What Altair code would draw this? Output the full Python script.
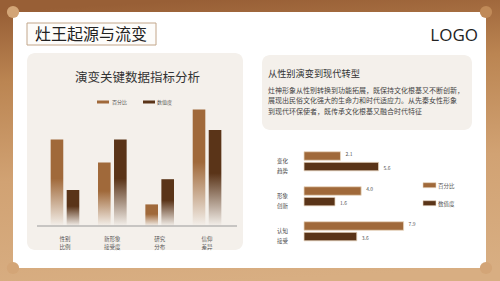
import altair as alt
import pandas as pd

# ---------------- data ----------------
series_list = ["百分比", "数值度"]

left_categories = ["性别\n比例", "新形象\n接受度", "研究\n分布", "信仰\n差异"]
left_pct = [72, 53, 18, 97]
left_val = [30, 72, 39, 80]

right_categories = ["变化\n趋势", "形象\n创新", "认知\n接受"]
right_pct = [2.1, 4.0, 7.9]
right_val = [5.6, 1.6, 3.6]

page_title = "灶王起源与流变"
logo_text = "LOGO"
left_title = "演变关键数据指标分析"
right_title = "从性别演变到现代转型"
body_lines = [
    "灶神形象从性别转换到功能拓展，既保持文化根基又不断创新，",
    "展现出民俗文化强大的生命力和时代适应力。从先秦女性形象",
    "到现代环保使者，既传承文化根基又融合时代特征",
]

# ---------------- styles ----------------
FONT = "Noto Sans CJK SC"
C1 = "#a0693a"
C2 = "#5a3418"
PANEL = "#f4f0eb"
BG_TAN = "#d3a577"

left_df = pd.DataFrame(
    [{"cat": c, "series": series_list[0], "value": v} for c, v in zip(left_categories, left_pct)]
    + [{"cat": c, "series": series_list[1], "value": v} for c, v in zip(left_categories, left_val)]
)
right_df = pd.DataFrame(
    [{"cat": c, "series": series_list[0], "value": v} for c, v in zip(right_categories, right_pct)]
    + [{"cat": c, "series": series_list[1], "value": v} for c, v in zip(right_categories, right_val)]
)
one = pd.DataFrame({"k": [0]})


def box(x, x2, y, y2, **kw):
    return alt.Chart(one).mark_rect(**kw).encode(
        x=alt.value(x), x2=alt.value(x2), y=alt.value(y), y2=alt.value(y2)
    )


def label(txt, x, y, font=FONT, **kw):
    return alt.Chart(one).mark_text(text=txt, font=font, **kw).encode(
        x=alt.value(x), y=alt.value(y)
    )


def dot(x, y, **kw):
    return alt.Chart(one).mark_point(filled=True, opacity=1, **kw).encode(
        x=alt.value(x), y=alt.value(y)
    )


bg_grad = alt.Gradient(
    gradient="linear", x1=0.4, y1=0, x2=0.5, y2=1,
    stops=[
        alt.GradientStop(offset=0, color="#985f36"),
        alt.GradientStop(offset=0.25, color="#bb8552"),
        alt.GradientStop(offset=0.6, color="#d1a273"),
        alt.GradientStop(offset=1, color="#d8ae82"),
    ],
)

layers = [
    box(0, 500, 0, 281, color=bg_grad),
    box(13, 486, 12, 268, color="#ffffff"),
    dot(13, 12, size=150, color=BG_TAN, shape="circle"),
    dot(486, 12, size=150, color="#c08a58", shape="circle"),
    dot(13, 268, size=150, color=BG_TAN, shape="circle"),
    dot(486, 268, size=150, color=BG_TAN, shape="circle"),
    box(27, 243, 53, 250, color=PANEL, cornerRadius=8),
    box(262, 472, 55, 130, color=PANEL, cornerRadius=8),
    box(27, 156, 23, 45, color="#fdfcfa", stroke="#c2a68a", strokeWidth=1),
    label(page_title, 35, 34.5, align="left", baseline="middle", fontSize=16, color="#222222"),
    label(logo_text, 478, 35.5, align="right", baseline="middle", fontSize=17, color="#222222",
          font="Open Sans"),
    label(left_title, 137.5, 78, align="center", baseline="middle", fontSize=12.5, color="#333333"),
    label(right_title, 268, 73.5, align="left", baseline="middle", fontSize=9.2, color="#333333"),
    label("\n".join(body_lines), 268, 90.5, align="left", baseline="middle", fontSize=7,
          lineBreak="\n", lineHeight=10.6, color="#444444"),
    # left legend
    box(97, 109, 100.5, 103.5, color=C1),
    label(series_list[0], 112, 102, align="left", baseline="middle", fontSize=5, color="#555555"),
    box(143, 155, 100.5, 103.5, color=C2),
    label(series_list[1], 157, 102, align="left", baseline="middle", fontSize=5, color="#555555"),
    # right legend
    box(423, 436, 182.7, 187.7, color=C1, stroke="#ead8c2", strokeWidth=0.6),
    label(series_list[0], 438, 185.5, align="left", baseline="middle", fontSize=5.5, color="#555555"),
    box(423, 436, 200.7, 205.7, color=C2, stroke="#ead8c2", strokeWidth=0.6),
    label(series_list[1], 438, 203.5, align="left", baseline="middle", fontSize=5.5, color="#555555"),
]

# ---------------- left vertical bars ----------------
x_left = alt.X("cat:N", sort=left_categories, axis=None,
               scale=alt.Scale(domain=left_categories, range=[41.3, 230.7],
                               paddingInner=0, paddingOuter=0))
xoff_left = alt.XOffset("series:N", scale=alt.Scale(domain=series_list, paddingInner=0.2125,
                                                     paddingOuter=0.584))
y_left = alt.Y("value:Q", axis=None, scale=alt.Scale(domain=[0, 100], range=[226, 106]))

for s, c in zip(series_list, [C1, C2]):
    grad = alt.Gradient(
        gradient="linear", x1=0, y1=0, x2=0, y2=1,
        stops=[
            alt.GradientStop(offset=0, color=c),
            alt.GradientStop(offset=0.45, color=c),
            alt.GradientStop(offset=1, color=PANEL),
        ],
    )
    layers.append(
        alt.Chart(left_df).transform_filter(alt.datum.series == s)
        .mark_bar(color=grad)
        .encode(x=x_left, xOffset=xoff_left, y=y_left)
    )

layers.append(
    alt.Chart(one).mark_rule(color="#9a9a9a", strokeWidth=1).encode(
        x=alt.value(37), x2=alt.value(237), y=alt.value(226)
    )
)
layers.append(
    alt.Chart(pd.DataFrame({"cat": left_categories}))
    .mark_text(font=FONT, fontSize=5.5, lineBreak="\n", lineHeight=8, color="#555555",
               baseline="middle")
    .encode(x=x_left, y=alt.value(239), text="cat:N")
)

# ---------------- right horizontal bars ----------------
y_right = alt.Y("cat:N", sort=right_categories, axis=None,
                scale=alt.Scale(domain=right_categories, range=[143.8, 248.8],
                                paddingInner=0, paddingOuter=0))
yoff_right = alt.YOffset("series:N", scale=alt.Scale(domain=series_list, paddingInner=0.198,
                                                      paddingOuter=0.75))
x_right = alt.X("value:Q", axis=None, scale=alt.Scale(domain=[-1.25, 9], range=[304, 415.6]))

for s, c in zip(series_list, [C1, C2]):
    sub = alt.Chart(right_df).transform_filter(alt.datum.series == s)
    layers.append(
        sub.mark_bar(color=c, stroke="#ead8c2", strokeWidth=0.8)
        .encode(y=y_right, yOffset=yoff_right, x=x_right, x2=alt.datum(-1.25))
    )
    layers.append(
        sub.mark_text(font=FONT, fontSize=5, align="left", dx=5, baseline="middle", color="#555555")
        .encode(y=y_right, yOffset=yoff_right, x=x_right, text=alt.Text("value:Q", format=".1f"))
    )

layers.append(
    alt.Chart(pd.DataFrame({"cat": right_categories}))
    .mark_text(font=FONT, fontSize=5.5, lineBreak="\n", lineHeight=9.5, color="#444444",
               align="left", baseline="middle")
    .encode(y=y_right, x=alt.value(277), text="cat:N")
)

chart = (
    alt.layer(*layers)
    .resolve_scale(x="independent", y="independent", xOffset="independent", yOffset="independent")
    .properties(width=500, height=281, padding=0, autosize=alt.AutoSizeParams(type="none"))
    .configure_view(stroke=None)
    .configure(background=BG_TAN)
)

chart.save("out.html", embed_options={"renderer": "svg", "actions": False})
